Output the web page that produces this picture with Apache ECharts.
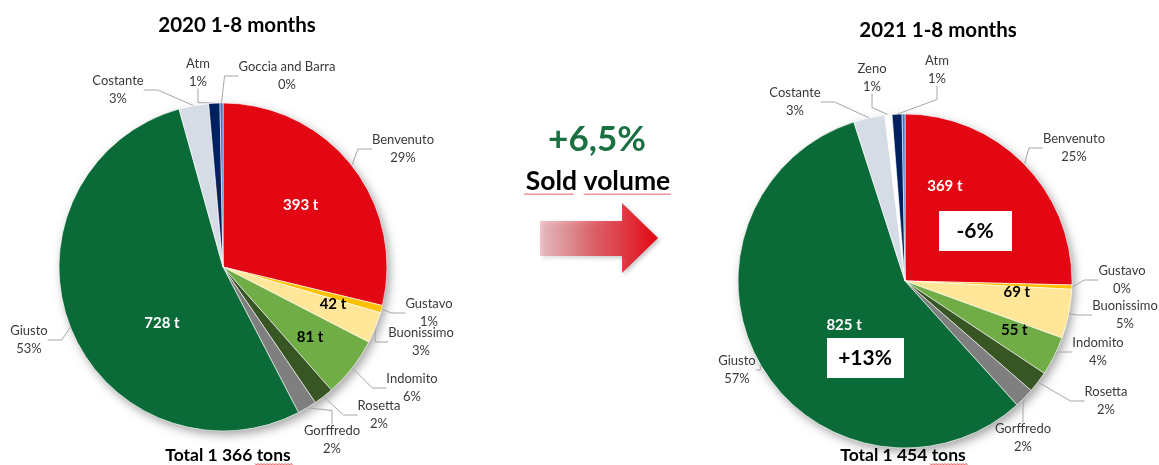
<!DOCTYPE html>
<html>
<head>
<meta charset="utf-8">
<script src="https://cdn.jsdelivr.net/npm/echarts@6/dist/echarts.min.js"></script>
<style>
  html, body { margin: 0; padding: 0; background: #fff; }
  #chart { width: 1159px; height: 465px; }
</style>
</head>
<body>
<div id="chart"></div>
<script>
// brands, clockwise from 12 o'clock
const brands2020 = ['Benvenuto', 'Gustavo', 'Buonissimo', 'Indomito', 'Rosetta', 'Gorffredo', 'Giusto', 'Costante', 'Atm', 'Goccia and Barra'];
const tons2020 = [393, 10, 42, 81, 27, 26, 728, 40, 15, 4];

const brands2021 = ['Benvenuto', 'Gustavo', 'Buonissimo', 'Indomito', 'Rosetta', 'Gorffredo', 'Giusto', 'Costante', 'Zeno', 'Atm', 'Goccia and Barra'];
const tons2021 = [369, 6, 69, 55, 30, 28, 825, 44, 10, 14, 4];

// slices that carry a "xxx t" label inside
const innerBrands = ['Benvenuto', 'Buonissimo', 'Indomito', 'Giusto'];
const hiddenLabels2021 = ['Goccia and Barra'];

const titles = ['2020 1-8 months', '2021 1-8 months'];
const totals = ['Total 1 366 tons', 'Total 1 454 tons'];
const growthTotal = '+6,5%';
const growthLabel = 'Sold volume';
const changeBenvenuto = '-6%';
const changeGiusto = '+13%';

const brandColor = {
  'Benvenuto': '#e30613',
  'Gustavo': '#ffc000',
  'Buonissimo': '#ffe699',
  'Indomito': '#70ad47',
  'Rosetta': '#375623',
  'Gorffredo': '#7f7f7f',
  'Giusto': '#0b6b38',
  'Costante': '#d6dce5',
  'Zeno': '#ffffff',
  'Atm': '#002060',
  'Goccia and Barra': '#4472c4'
};
const innerColor = { 'Benvenuto': '#fff', 'Giusto': '#fff', 'Buonissimo': '#000', 'Indomito': '#000' };

// fine tuning of the inner tonnage labels
const innerOffset2020 = { 'Benvenuto': [11, -9], 'Buonissimo': [31, 6], 'Indomito': [20, 18], 'Giusto': [18, 25] };
const innerOffset2021 = { 'Benvenuto': [-22, -34], 'Buonissimo': [27, -6], 'Indomito': [32, 10], 'Giusto': [14, 1] };

// where the outer (name / %) labels sit, like the Excel original
const labelPos2020 = {
  'Benvenuto': [403, 149], 'Gustavo': [429, 313], 'Buonissimo': [421, 342], 'Indomito': [412, 388],
  'Rosetta': [379, 415], 'Gorffredo': [332, 440], 'Giusto': [29, 340], 'Costante': [118, 90],
  'Atm': [198, 73], 'Goccia and Barra': [287, 76]
};
const labelPos2021 = {
  'Benvenuto': [1074, 148], 'Gustavo': [1122, 280], 'Buonissimo': [1125, 315], 'Indomito': [1098, 352],
  'Rosetta': [1106, 401], 'Gorffredo': [1023, 438], 'Giusto': [737, 370], 'Costante': [795, 102],
  'Zeno': [872, 78], 'Atm': [937, 70]
};

const FONT = 'Lato, "Open Sans", sans-serif';

const chart = echarts.init(document.getElementById('chart'));

function outerSeries(names, values, center, radius, positions, hidden) {
  hidden = hidden || [];
  return {
    type: 'pie',
    center: center,
    radius: radius,
    startAngle: 90,
    clockwise: true,
    z: 3,
    avoidLabelOverlap: false,
    itemStyle: { borderColor: '#fff', borderWidth: 0.6 },
    label: {
      show: true,
      position: 'outside',
      overflow: 'none',
      formatter: (p) => '{a|' + p.name + '}\n{a|' + Math.round(p.percent) + '%}',
      rich: { a: { align: 'center', fontFamily: FONT, fontSize: 13, color: '#3a3a3a', lineHeight: 18 } }
    },
    labelLine: { show: true, length: 12, length2: 14, lineStyle: { color: '#a6a6a6', width: 1 } },
    labelLayout: (params) => {
      const p = positions[names[params.dataIndex]];
      if (!p) return {};
      return { x: p[0], y: p[1], align: 'center', verticalAlign: 'middle' };
    },
    emphasis: { disabled: true },
    data: names.map((n, i) => ({
      name: n,
      value: values[i],
      itemStyle: { color: brandColor[n] },
      label: { show: !hidden.includes(n) },
      labelLine: { show: !hidden.includes(n) }
    }))
  };
}

function innerSeries(names, values, center, radius, offsets) {
  return {
    type: 'pie',
    center: center,
    radius: radius,
    startAngle: 90,
    clockwise: true,
    silent: true,
    z: 4,
    itemStyle: { color: 'rgba(0,0,0,0)' },
    labelLine: { show: false },
    emphasis: { disabled: true },
    data: names.map((n, i) => ({
      name: n,
      value: values[i],
      label: {
        show: innerBrands.includes(n),
        position: 'inside',
        formatter: '{c} t',
        fontFamily: FONT,
        fontWeight: 'bold',
        fontSize: 15,
        color: innerColor[n] || '#000',
        offset: offsets[n] || [0, 0]
      }
    }))
  };
}

function shadowSeries(values, center, radius) {
  return {
    type: 'pie',
    center: center,
    radius: radius,
    silent: true,
    z: 1,
    label: { show: false },
    labelLine: { show: false },
    itemStyle: { color: '#fff', shadowBlur: 10, shadowColor: 'rgba(0,0,0,0.35)', shadowOffsetX: 3, shadowOffsetY: 4 },
    data: [{ value: values.reduce((a, b) => a + b, 0) }]
  };
}

// red spell-check squiggle under a word
function squiggle(x0, x1, y) {
  const pts = [];
  for (let x = x0, k = 0; x <= x1; x += 1.5, k++) pts.push([x, y + (k % 2 ? 1 : -0.5)]);
  return { type: 'polyline', z: 12, shape: { points: pts }, style: { stroke: '#e02020', lineWidth: 0.8, fill: null } };
}

const c1 = [223, 267], r1 = 164;
const c2 = [905, 281], r2 = 167;

const option = {
  backgroundColor: '#fff',
  animation: false,
  series: [
    shadowSeries(tons2020, c1, r1),
    shadowSeries(tons2021, c2, r2),
    outerSeries(brands2020, tons2020, c1, r1, labelPos2020),
    outerSeries(brands2021, tons2021, c2, r2, labelPos2021, hiddenLabels2021),
    innerSeries(brands2020, tons2020, c1, r1, innerOffset2020),
    innerSeries(brands2021, tons2021, c2, r2, innerOffset2021)
  ],
  graphic: [
    { type: 'text', x: 237, y: 25, style: { text: titles[0], font: 'bold 20.5px ' + FONT, fill: '#000', align: 'center', verticalAlign: 'middle' } },
    { type: 'text', x: 938, y: 30, style: { text: titles[1], font: 'bold 20.5px ' + FONT, fill: '#000', align: 'center', verticalAlign: 'middle' } },
    { type: 'text', x: 228, y: 455, style: { text: totals[0], font: 'bold 17.5px ' + FONT, fill: '#000', align: 'center', verticalAlign: 'middle' } },
    { type: 'text', x: 903, y: 455, style: { text: totals[1], font: 'bold 17.5px ' + FONT, fill: '#000', align: 'center', verticalAlign: 'middle' } },
    squiggle(255, 293, 464),
    squiggle(930, 968, 464),
    { type: 'text', x: 597, y: 140, style: { text: growthTotal, font: 'bold 35px ' + FONT, fill: '#1a7040', align: 'center', verticalAlign: 'middle' } },
    { type: 'text', x: 598, y: 181, style: { text: growthLabel, font: 'bold 26.5px ' + FONT, fill: '#000', align: 'center', verticalAlign: 'middle' } },
    squiggle(524, 574, 194),
    squiggle(584, 672, 194),
    {
      type: 'polygon',
      shape: { points: [[540, 221], [622, 221], [622, 203], [658, 238], [622, 273], [622, 256], [540, 256]] },
      style: {
        fill: new echarts.graphic.LinearGradient(0, 0, 1, 0, [
          { offset: 0, color: 'rgba(228,130,140,0.45)' },
          { offset: 0.45, color: 'rgba(222,70,80,0.8)' },
          { offset: 1, color: '#e30613' }
        ]),
        shadowBlur: 4, shadowColor: 'rgba(0,0,0,0.25)', shadowOffsetX: 2, shadowOffsetY: 2
      }
    },
    { type: 'rect', z: 10, shape: { x: 939, y: 211, width: 73, height: 40 }, style: { fill: '#fff' } },
    { type: 'text', z: 11, x: 975, y: 231, style: { text: changeBenvenuto, font: 'bold 21px ' + FONT, fill: '#000', align: 'center', verticalAlign: 'middle' } },
    { type: 'rect', z: 10, shape: { x: 827, y: 338, width: 77, height: 40 }, style: { fill: '#fff' } },
    { type: 'text', z: 11, x: 865, y: 358, style: { text: changeGiusto, font: 'bold 21px ' + FONT, fill: '#000', align: 'center', verticalAlign: 'middle' } }
  ]
};

chart.setOption(option);
</script>
</body>
</html>
